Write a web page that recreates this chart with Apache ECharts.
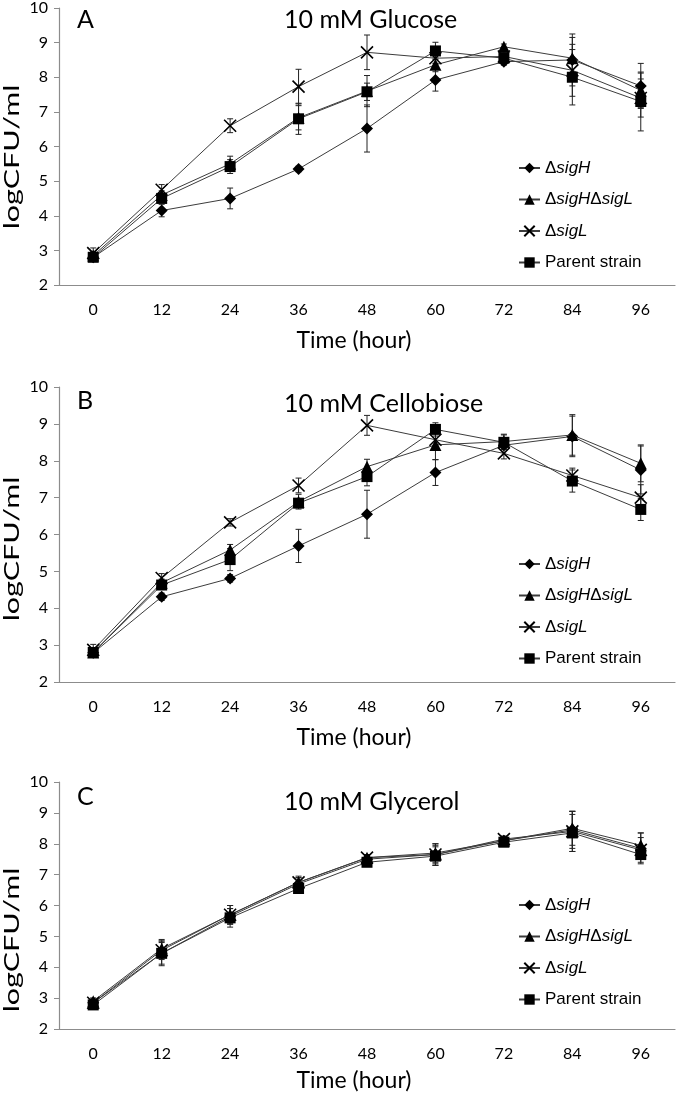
<!DOCTYPE html>
<html>
<head>
<meta charset="utf-8">
<script src="https://cdn.jsdelivr.net/npm/echarts@6/dist/echarts.min.js"></script>
<style>
html,body{margin:0;padding:0;background:#fff;}
#chart{width:680px;height:1094px;}
</style>
</head>
<body>
<div id="chart"></div>
<script>
// ---------- data ----------
const hours = ['0', '12', '24', '36', '48', '60', '72', '84', '96'];
const strains = ['ΔsigH', 'ΔsigHΔsigL', 'ΔsigL', 'Parent strain'];
const panelTitles = ['10 mM Glucose', '10 mM Cellobiose', '10 mM Glycerol'];
const panelLetters = ['A', 'B', 'C'];
const yTicks = [2, 3, 4, 5, 6, 7, 8, 9, 10];
const yAxisTitle = 'logCFU/ml';
const xAxisTitle = 'Time (hour)';

// Panel A: glucose
const glucoseSigH        = [2.80, 4.15, 4.50, 5.35, 6.52, 7.92, 8.45, 8.50, 7.75];
const glucoseSigHErr     = [0.10, 0.18, 0.30, 0.08, 0.68, 0.32, 0.10, 0.75, 0.65];
const glucoseSigHSigL    = [2.85, 4.60, 5.50, 6.83, 7.60, 8.36, 8.88, 8.55, 7.62];
const glucoseSigHSigLErr = [0.12, 0.12, 0.22, 0.35, 0.45, 0.20, 0.08, 0.60, 0.50];
const glucoseSigL        = [2.92, 4.75, 6.60, 7.73, 8.72, 8.55, 8.60, 8.20, 7.40];
const glucoseSigLErr     = [0.15, 0.15, 0.20, 0.50, 0.50, 0.15, 0.12, 0.75, 0.55];
const glucoseParent      = [2.80, 4.50, 5.42, 6.80, 7.58, 8.76, 8.55, 8.00, 7.30];
const glucoseParentErr   = [0.10, 0.10, 0.20, 0.45, 0.25, 0.25, 0.10, 0.80, 0.85];

// Panel B: cellobiose
const cellobioseSigH        = [2.79, 4.31, 4.81, 5.69, 6.55, 7.68, 8.42, 8.66, 7.75];
const cellobioseSigHErr     = [0.10, 0.10, 0.10, 0.45, 0.65, 0.35, 0.10, 0.55, 0.65];
const cellobioseSigHSigL    = [2.80, 4.69, 5.58, 6.89, 7.84, 8.43, 8.52, 8.70, 7.93];
const cellobioseSigHSigLErr = [0.12, 0.10, 0.15, 0.20, 0.20, 0.40, 0.20, 0.55, 0.50];
const cellobioseSigL        = [2.87, 4.82, 6.33, 7.33, 8.96, 8.57, 8.20, 7.60, 7.00];
const cellobioseSigLErr     = [0.15, 0.12, 0.10, 0.20, 0.27, 0.20, 0.15, 0.20, 0.35];
const cellobioseParent      = [2.80, 4.63, 5.32, 6.85, 7.57, 8.85, 8.50, 7.45, 6.68];
const cellobioseParentErr   = [0.10, 0.10, 0.30, 0.10, 0.25, 0.18, 0.20, 0.30, 0.30];

// Panel C: glycerol
const glycerolSigH        = [2.85, 4.45, 5.65, 6.70, 7.50, 7.65, 8.10, 8.45, 7.85];
const glycerolSigHErr     = [0.10, 0.40, 0.25, 0.20, 0.10, 0.35, 0.10, 0.60, 0.50];
const glycerolSigHSigL    = [2.90, 4.60, 5.70, 6.75, 7.55, 7.70, 8.10, 8.50, 7.95];
const glycerolSigHSigLErr = [0.10, 0.30, 0.30, 0.15, 0.10, 0.30, 0.10, 0.55, 0.40];
const glycerolSigL        = [2.85, 4.55, 5.70, 6.75, 7.55, 7.65, 8.15, 8.40, 7.80];
const glycerolSigLErr     = [0.15, 0.30, 0.30, 0.20, 0.10, 0.30, 0.10, 0.65, 0.40];
const glycerolParent      = [2.78, 4.45, 5.60, 6.55, 7.40, 7.60, 8.05, 8.35, 7.65];
const glycerolParentErr   = [0.10, 0.35, 0.30, 0.10, 0.10, 0.30, 0.10, 0.60, 0.15];

const panelValues = [
  [glucoseSigH, glucoseSigHSigL, glucoseSigL, glucoseParent],
  [cellobioseSigH, cellobioseSigHSigL, cellobioseSigL, cellobioseParent],
  [glycerolSigH, glycerolSigHSigL, glycerolSigL, glycerolParent]
];
const panelErrors = [
  [glucoseSigHErr, glucoseSigHSigLErr, glucoseSigLErr, glucoseParentErr],
  [cellobioseSigHErr, cellobioseSigHSigLErr, cellobioseSigLErr, cellobioseParentErr],
  [glycerolSigHErr, glycerolSigHSigLErr, glycerolSigLErr, glycerolParentErr]
];

// ---------- layout / style ----------
const FONT = 'Lato';
const LEG_FONT = '"Liberation Sans", Arial, sans-serif';
const grids = [
  { top: 6,   height: 279 },
  { top: 387, height: 295 },
  { top: 782, height: 247 }
];
const gridLeft = 59, gridRight = 5;
const titleTops = [7, 391, 789];
const letterTops = [7, 388, 784];
const legendTops = [153, 549, 890];
const xNameGaps = [44, 44, 40];
const yTitleCenters = [157, 549, 940];

const symbols = [
  { symbol: 'path://M5,0L10,5L5,10L0,5Z', size: 12, border: 0 },
  { symbol: 'triangle', size: 12, border: 0 },
  { symbol: 'path://M0,0L10,10M10,0L0,10', size: 12, border: 1.6 },
  { symbol: 'rect', size: 11, border: 0 }
];

const chart = echarts.init(document.getElementById('chart'), null, { renderer: 'canvas' });

const option = {
  backgroundColor: '#ffffff',
  animation: false,
  textStyle: { fontFamily: FONT, color: '#000' },
  grid: grids.map(g => ({ left: gridLeft, right: gridRight, top: g.top, height: g.height, containLabel: false })),
  title: [],
  legend: [],
  xAxis: [],
  yAxis: [],
  graphic: [],
  series: []
};

grids.forEach((g, p) => {
  option.title.push({
    text: panelTitles[p], left: 284, top: titleTops[p], padding: 0,
    textStyle: { fontFamily: FONT, fontSize: 25, fontWeight: 'normal', color: '#000' }
  });
  option.title.push({
    text: panelLetters[p], left: 77, top: letterTops[p], padding: 0,
    textStyle: { fontFamily: FONT, fontSize: 25, fontWeight: 'normal', color: '#000' }
  });
  option.graphic.push({
    type: 'text', x: 12, y: yTitleCenters[p], rotation: Math.PI / 2, scaleX: 1.45,
    style: { text: yAxisTitle, font: '21px Lato', fill: '#000', align: 'center', verticalAlign: 'middle' }
  });
  option.xAxis.push({
    type: 'category', gridIndex: p, data: hours, boundaryGap: true,
    name: xAxisTitle, nameLocation: 'middle', nameGap: xNameGaps[p],
    nameTextStyle: { fontFamily: FONT, fontSize: 23, color: '#000', padding: [0, 26, 0, 0] },
    axisLine: { lineStyle: { color: '#8c8c8c', width: 1.2 } },
    axisTick: { show: false },
    axisLabel: { fontFamily: FONT, fontSize: 16, color: '#000', margin: 17 },
    splitLine: { show: false }
  });
  option.yAxis.push({
    type: 'value', gridIndex: p, min: 2, max: 10, interval: 1,
    axisLine: { show: true, lineStyle: { color: '#8c8c8c', width: 1.2 } },
    axisTick: { show: true, length: 5, lineStyle: { color: '#8c8c8c' } },
    axisLabel: { fontFamily: FONT, fontSize: 16, color: '#000', margin: 11,
      formatter: v => (yTicks.indexOf(v) >= 0 ? String(v) : '') },
    splitLine: { show: false }
  });
  option.legend.push({
    orient: 'vertical', left: 513, top: legendTops[p],
    data: strains, itemWidth: 21, itemHeight: 13, itemGap: 11.5, selectedMode: false,
    textStyle: {
      fontFamily: LEG_FONT, fontSize: 17, color: '#000', lineHeight: 20,
      rich: { i: { fontFamily: LEG_FONT, fontSize: 17, fontStyle: 'italic', color: '#000' } }
    },
    formatter: name => name.replace(/sig([HL])/g, '{i|sig$1}')
  });
  strains.forEach((s, k) => {
    const sym = symbols[k];
    option.series.push({
      type: 'line', name: s, xAxisIndex: p, yAxisIndex: p,
      data: panelValues[p][k],
      symbol: sym.symbol, symbolSize: sym.size, showSymbol: true,
      lineStyle: { color: '#3c3c3c', width: 1 },
      itemStyle: { color: '#000', borderColor: '#000', borderWidth: sym.border },
      z: 3 + k
    });
    option.series.push({
      type: 'custom', name: s + ' err', xAxisIndex: p, yAxisIndex: p,
      data: panelValues[p][k].map((v, i) => [i, v, panelErrors[p][k][i]]),
      encode: { x: 0, y: 1 },
      z: 2,
      silent: true,
      renderItem: (params, api) => {
        const i = api.value(0), v = api.value(1), e = api.value(2);
        const top = api.coord([i, v + e]);
        const bot = api.coord([i, v - e]);
        const cw = 3;
        const st = { stroke: '#222', lineWidth: 1 };
        return {
          type: 'group',
          children: [
            { type: 'line', shape: { x1: top[0], y1: top[1], x2: bot[0], y2: bot[1] }, style: st },
            { type: 'line', shape: { x1: top[0] - cw, y1: top[1], x2: top[0] + cw, y2: top[1] }, style: st },
            { type: 'line', shape: { x1: bot[0] - cw, y1: bot[1], x2: bot[0] + cw, y2: bot[1] }, style: st }
          ]
        };
      }
    });
  });
});

chart.setOption(option);
</script>
</body>
</html>
